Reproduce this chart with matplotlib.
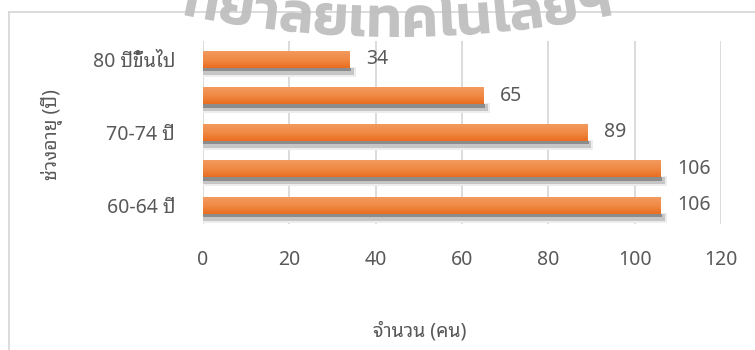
import numpy as np
import matplotlib
matplotlib.use("Agg")
import matplotlib.pyplot as plt
from matplotlib.colors import LinearSegmentedColormap
from matplotlib.font_manager import FontProperties
from matplotlib.lines import Line2D
from matplotlib.patches import PathPatch, Rectangle
from matplotlib.path import Path
from matplotlib.textpath import TextPath

plt.rcParams['font.family'] = ['Noto Sans Thai Looped', 'Noto Sans', 'DejaVu Sans']

# age groups, youngest first (drawn bottom to top)
age_groups = ["60-64 ปี", "65-69 ปี", "70-74 ปี", "75-79 ปี", "80 ปีขึ้นไป"]
counts = [106, 106, 89, 65, 34]
# only every other category gets a label on the axis
shown_labels = ["60-64 ปี", "", "70-74 ปี", "", "80 ปีขึ้นไป"]
x_ticks = [0, 20, 40, 60, 80, 100, 120]

x_label = "จำนวน (คน)"
y_label = "ช่วงอายุ (ปี)"
watermark = "ทยาลัยเทคโนโลยีฯ"

W, H = 755, 350
text_grey = "#595959"
grid_grey = "#d9d9d9"
fs = 14

fig = plt.figure(figsize=(W / 100, H / 100), dpi=100)
ax = fig.add_axes([203 / W, (H - 223.5) / H, 518 / W, 182.5 / H])

xmin, xmax = 0, 120
ypos = np.arange(len(age_groups))
bar_h = 0.46
px_x = (xmax - xmin) / 518.0   # one pixel in data units
px_y = 1 / 36.5

orange = LinearSegmentedColormap.from_list("bar", ["#e96d1f", "#f08a45", "#f39a5e"])
grad = np.linspace(0, 1, 64).reshape(-1, 1)

for y, v in zip(ypos, counts):
    y0 = y - bar_h / 2
    # soft drop shadow under each bar
    ax.add_patch(Rectangle((-2 * px_x, y0 - 9 * px_y), v + 8 * px_x, 10 * px_y,
                           fc="#ededed", ec="none", zorder=1))
    ax.add_patch(Rectangle((-1 * px_x, y0 - 7 * px_y), v + 5 * px_x, 7 * px_y,
                           fc="#c6c6c6", ec="none", zorder=1.5))
    ax.add_patch(Rectangle((0, y0 - 3.5 * px_y), v + 1.5 * px_x, 3.5 * px_y,
                           fc="#8c8c8c", ec="none", zorder=1.6))
    bar = ax.barh(y, v, height=bar_h, color="#ed7d31", zorder=3)[0]
    im = ax.imshow(grad, extent=(0, v, y0, y0 + bar_h), origin="lower",
                   aspect="auto", cmap=orange, zorder=3.5)
    im.set_clip_path(bar)
    ax.annotate(str(v), (v, y), xytext=(12, 0), textcoords="offset points",
                ha="left", va="center", fontsize=fs, color=text_grey)

ax.set_xlim(xmin, xmax)
ax.set_ylim(-0.5, len(age_groups) - 0.5)
ax.set_xticks(x_ticks)
ax.set_yticks(ypos)
ax.set_yticklabels(shown_labels)
ax.grid(axis="x", color=grid_grey, lw=1.3)
ax.set_axisbelow(True)
ax.tick_params(axis="both", length=0, labelsize=fs, labelcolor=text_grey)
ax.tick_params(axis="x", pad=19)
ax.tick_params(axis="y", pad=20)
for s in ax.spines.values():
    s.set_visible(False)

fig.text(420 / W, 1 - 331 / H, x_label, ha="center", va="center",
         fontsize=fs, color=text_grey)
fig.text(52 / W, 1 - 135 / H, y_label, ha="center", va="center",
         rotation=90, fontsize=fs, color=text_grey)

# chart area border (only the top and left edges are inside the frame)
fig.add_artist(Line2D([9 / W, 1], [1 - 12 / H, 1 - 12 / H], transform=fig.transFigure,
                      color=grid_grey, lw=1.3))
fig.add_artist(Line2D([9 / W, 9 / W], [0, 1 - 12 / H], transform=fig.transFigure,
                      color=grid_grey, lw=1.3))

# curved grey stamp text across the top edge
tp = TextPath((0, 0), watermark, size=60,
              prop=FontProperties(family="Kanit", weight="semibold"))
ext = tp.get_extents()
k = 430 / ext.width
u = (tp.vertices[:, 0] - (ext.x0 + ext.x1) / 2) * k
v = tp.vertices[:, 1] * k
R, cx = 1060.0, 398.0
cy = (H - 37) + R
theta = u / R
X = cx + (R - v) * np.sin(theta)
Y = cy - (R - v) * np.cos(theta)
wm_path = Path(np.column_stack([X / W, Y / H]), tp.codes)
fig.add_artist(PathPatch(wm_path, transform=fig.transFigure, fc="#bfbfbf",
                         ec="none", alpha=0.95, zorder=5))

fig.savefig("out.png", dpi=100)
